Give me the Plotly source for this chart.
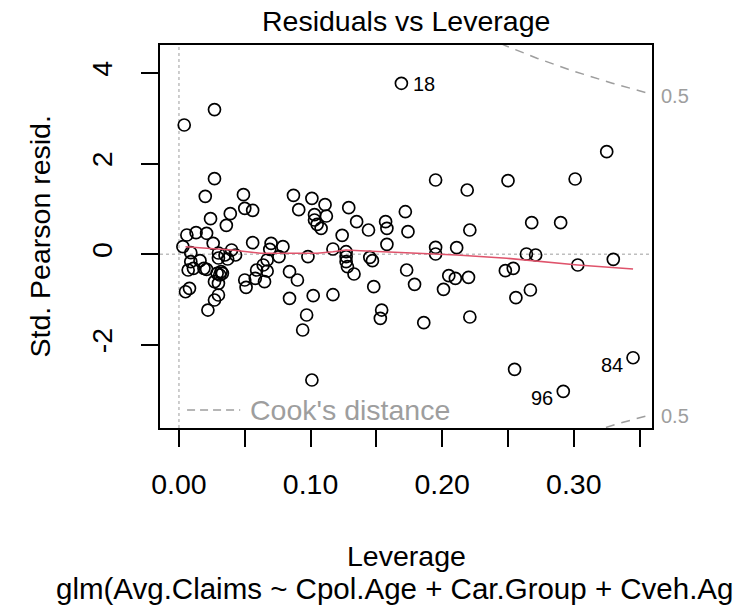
import numpy as np
import plotly.graph_objects as go

# ---- data ----
leverage = [0.004, 0.027, 0.027, 0.020, 0.049, 0.050, 0.056, 0.039, 0.024, 0.036,
            0.087, 0.101, 0.111, 0.091, 0.103, 0.112, 0.103, 0.105, 0.108, 0.129,
            0.135, 0.124, 0.006, 0.013, 0.021, 0.026, 0.056, 0.070, 0.003, 0.009,
            0.040, 0.030, 0.035, 0.030, 0.037, 0.043, 0.069, 0.079, 0.076, 0.067,
            0.064, 0.059, 0.067, 0.058, 0.065, 0.050, 0.051, 0.009, 0.016, 0.007,
            0.011, 0.019, 0.021, 0.032, 0.031, 0.029, 0.033, 0.027, 0.030, 0.008,
            0.005, 0.030, 0.027, 0.022, 0.098, 0.084, 0.090, 0.084, 0.102, 0.117,
            0.097, 0.094, 0.101, 0.117, 0.127, 0.127, 0.127, 0.128, 0.133, 0.169,
            0.195, 0.219, 0.250, 0.301, 0.325, 0.144, 0.157, 0.158, 0.172, 0.174,
            0.221, 0.268, 0.290, 0.158, 0.145, 0.147, 0.148, 0.154, 0.153, 0.173,
            0.179, 0.186, 0.195, 0.195, 0.211, 0.205, 0.210, 0.201, 0.220, 0.221,
            0.248, 0.254, 0.256, 0.267, 0.264, 0.271, 0.303, 0.330, 0.255, 0.292,
            0.345]
std_pearson_resid = [2.854, 3.194, 1.669, 1.280, 1.316, 1.015, 0.971, 0.896, 0.786, 0.640,
                     1.302, 1.236, 1.095, 0.985, 0.874, 0.845, 0.757, 0.662, 0.574, 1.029,
                     0.720, 0.419, 0.426, 0.477, 0.464, 0.243, 0.256, 0.243, 0.168, 0.035,
                     0.095, 0.029, -0.015, -0.082, -0.104, -0.015, 0.110, 0.168, -0.053, -0.126,
                     -0.236, -0.347, -0.369, -0.530, -0.605, -0.567, -0.728, -0.163, -0.141, -0.347,
                     -0.309, -0.309, -0.331, -0.384, -0.457, -0.419, -0.419, -0.605, -0.640, -0.751,
                     -0.826, -0.898, -1.009, -1.230, -0.053, -0.384, -0.567, -0.971, -0.914, -0.892,
                     -1.340, -1.671, -2.775, 0.117, 0.057, -0.053, -0.163, -0.274, -0.435, 3.775,
                     1.640, 1.419, 1.625, 1.662, 2.265, 0.536, 0.720, 0.574, 0.940, 0.499,
                     0.536, 0.698, 0.698, 0.221, -0.066, -0.141, -0.715, -1.230, -1.413, -0.347,
                     -0.662, -1.510, 0.155, 0.007, 0.146, -0.472, -0.530, -0.773, -0.508, -1.384,
                     -0.362, -0.309, -0.958, -0.788, 0.007, -0.015, -0.236, -0.110, -2.539, -3.024,
                     -2.283]

# labelled observations: (label, index into the arrays above)
id_labels = ["18", "96", "84"]
id_index = [79, 119, 120]

# smoother (red line)
smooth_lev = [0.005, 0.040, 0.062, 0.087, 0.105, 0.117, 0.127, 0.138, 0.173, 0.211,
              0.249, 0.274, 0.303, 0.345]
smooth_res = [0.168, 0.095, 0.022, 0.022, 0.022, 0.057, 0.095, 0.079, 0.035, -0.015,
              -0.088, -0.163, -0.236, -0.325]

n_params = 14          # model rank used for the Cook's distance contour
cook_level = 0.5

x_range = [-0.0144, 0.3594]
y_range = [-3.834, 4.620]
x_tickvals = [0.00, 0.05, 0.10, 0.15, 0.20, 0.25, 0.30, 0.35]
x_ticktext = ["0.00", "", "0.10", "", "0.20", "", "0.30", ""]
y_tickvals = [-2, 0, 2, 4]
y_ticktext = ["-2", "0", "2", "4"]

title_text = "Residuals vs Leverage"
xlab_text = "Leverage"
ylab_text = "Std. Pearson resid."
sub_caption = "glm(Avg.Claims ~ Cpol.Age + Car.Group + Cveh.Ag"
legend_text = "Cook's distance"

FONT = "Liberation Sans, Arial, sans-serif"
GRAY = "#9E9E9E"
LIGHT = "#BEBEBE"
RED = "#DF536B"
FS = 28.5

fig = go.Figure()

# Cook's distance contours
hh = np.linspace(0.18, x_range[1], 120)
cr = np.sqrt(cook_level * n_params * (1 - hh) / hh)
for sgn in (1, -1):
    fig.add_trace(go.Scatter(x=hh, y=sgn * cr, mode="lines",
                             line=dict(color=GRAY, width=1.5, dash="9px,7px"),
                             hoverinfo="skip", showlegend=False))

# points
fig.add_trace(go.Scatter(x=leverage, y=std_pearson_resid, mode="markers",
                         marker=dict(symbol="circle-open", size=12,
                                     color="black", line=dict(width=1.7, color="black")),
                         showlegend=False, cliponaxis=False))

# smoother
fig.add_trace(go.Scatter(x=smooth_lev, y=smooth_res, mode="lines",
                         line=dict(color=RED, width=1.6), showlegend=False))

shapes = [
    dict(type="line", xref="x", yref="paper", x0=0, x1=0, y0=0, y1=1,
         line=dict(color=LIGHT, width=1.5, dash="dot"), layer="below"),
    dict(type="line", xref="paper", yref="y", x0=0, x1=1, y0=0, y1=0,
         line=dict(color=LIGHT, width=1.5, dash="dot"), layer="below"),
    # legend sample line
    dict(type="line", xref="paper", yref="paper", x0=0.055, x1=0.163, y0=0.047, y1=0.047,
         line=dict(color=GRAY, width=1.5, dash="8px,5px")),
]

annotations = []
# id labels
for lab, idx in zip(id_labels, id_index):
    xv, yv = leverage[idx], std_pearson_resid[idx]
    if lab == "18":
        annotations.append(dict(x=xv, y=yv, xref="x", yref="y", text=lab, showarrow=False,
                                xanchor="left", yanchor="middle", xshift=10, yshift=-1,
                                font=dict(family=FONT, size=20, color="black")))
    else:
        annotations.append(dict(x=xv, y=yv, xref="x", yref="y", text=lab, showarrow=False,
                                xanchor="right", yanchor="middle", xshift=-8, yshift=-7,
                                font=dict(family=FONT, size=20, color="black")))

# contour labels on the right
xmax = x_range[1]
rlab = float(np.sqrt(cook_level * n_params * (1 - xmax) / xmax))
for sgn in (1, -1):
    annotations.append(dict(x=1, y=sgn * rlab, xref="paper", yref="y", text=str(cook_level),
                            showarrow=False, xanchor="left", yanchor="middle", xshift=7,
                            yshift=-2, font=dict(family=FONT, size=20, color=GRAY)))

# legend text
annotations.append(dict(x=0.179, y=0.047, xref="paper", yref="paper", text=legend_text,
                        showarrow=False, xanchor="left", yanchor="middle",
                        font=dict(family=FONT, size=FS, color=GRAY)))
# title
annotations.append(dict(x=0.5, y=(428 - 21) / 383, xref="paper", yref="paper",
                        text=title_text, showarrow=False,
                        xanchor="center", yanchor="middle",
                        font=dict(family=FONT, size=FS, color="black")))
# x label
annotations.append(dict(x=0.5, y=(428 - 556) / 383, xref="paper", yref="paper",
                        text=xlab_text, showarrow=False, xanchor="center", yanchor="middle",
                        font=dict(family=FONT, size=FS, color="black")))
# sub caption (as visible in the reference, running to the right edge)
annotations.append(dict(x=(54 - 160) / 492, y=(428 - 588) / 383, xref="paper", yref="paper",
                        text=sub_caption,
                        showarrow=False, xanchor="left", yanchor="middle",
                        font=dict(family=FONT, size=29.5, color="black")))
# y label
annotations.append(dict(x=(39 - 160) / 492, y=0.5, xref="paper", yref="paper",
                        text=ylab_text, showarrow=False, textangle=-90,
                        xanchor="center", yanchor="middle",
                        font=dict(family=FONT, size=FS, color="black")))

fig.update_layout(
    width=736, height=608,
    margin=dict(l=160, r=84, t=45, b=180),
    paper_bgcolor="white", plot_bgcolor="white",
    showlegend=False,
    shapes=shapes, annotations=annotations,
    xaxis=dict(range=x_range, tickvals=x_tickvals, ticktext=x_ticktext,
               ticks="outside", ticklen=17, tickwidth=1.5, tickcolor="black",
               showline=True, linecolor="black", linewidth=1.5, mirror=True,
               showgrid=False, zeroline=False,
               tickfont=dict(family=FONT, size=FS, color="black"),
               ticklabelstandoff=13),
    yaxis=dict(range=y_range, tickvals=y_tickvals, ticktext=y_ticktext,
               ticks="outside", ticklen=17, tickwidth=1.5, tickcolor="black",
               showline=True, linecolor="black", linewidth=1.5, mirror=True,
               showgrid=False, zeroline=False, tickangle=-90,
               tickfont=dict(family=FONT, size=FS, color="black"),
               ticklabelstandoff=18),
)

fig.write_html("out.html")
